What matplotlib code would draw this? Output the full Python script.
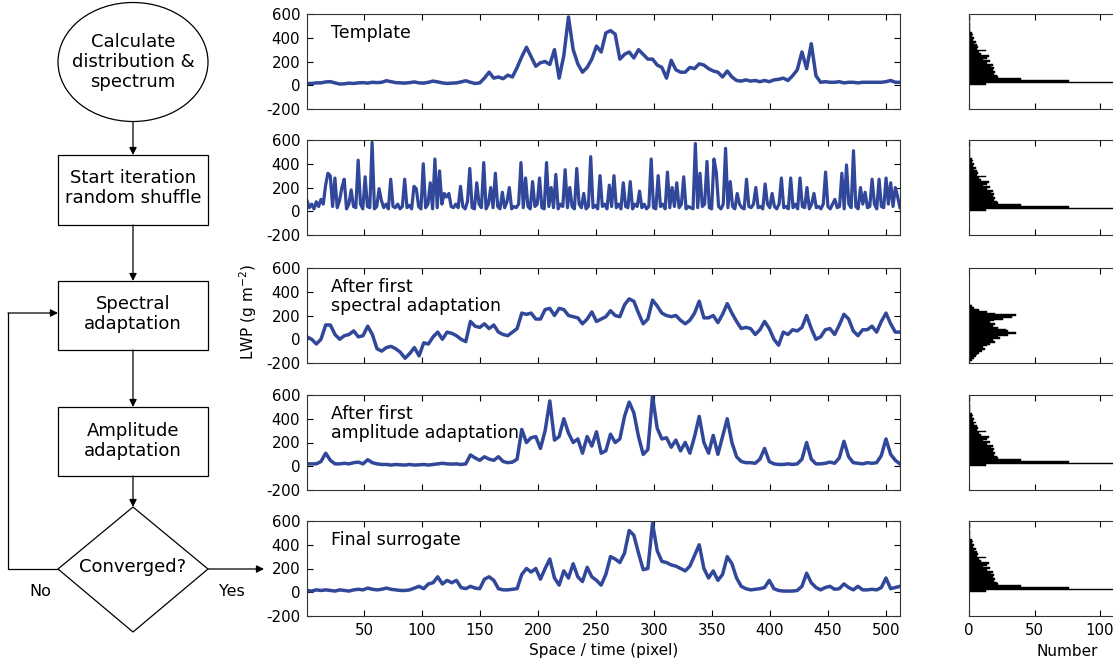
import numpy as np
import matplotlib.pyplot as plt
from matplotlib.patches import Ellipse, Rectangle, Polygon

plt.rcParams['axes.unicode_minus'] = False

# LWP series, one value every ~4 pixels (1..512)
template = [15, 15, 20, 20, 28, 30, 20, 10, 12, 18, 15, 20, 22, 18, 25, 22,
            25, 38, 30, 22, 20, 18, 22, 28, 20, 18, 25, 35, 28, 20, 15, 18,
            20, 28, 38, 25, 15, 20, 60, 110, 60, 70, 55, 85, 70, 150,
            240, 320, 240, 160, 190, 200, 175, 300, 60, 250, 575, 300, 180, 110,
            150, 220, 330, 280, 440, 460, 430, 220, 260, 280, 230, 300, 260, 220,
            220, 170, 150, 60, 210, 130, 110, 110, 150, 140, 180, 170, 140, 120,
            110, 70, 120, 70, 40, 35, 45, 35, 40, 30, 40, 30, 45, 50, 60, 40,
            80, 130, 280, 140, 350, 80, 25, 30, 25, 25, 30, 20, 25, 25, 20, 25,
            25, 25, 25, 25, 30, 40, 25, 25]
# shuffled series, one value every ~2 pixels
shuffled = [90, 30, 60, 20, 80, 40, 100, 60, 220, 320, 300, 40, 280, 30, 90, 200,
            270, 20, 60, 180, 40, 30, 430, 60, 20, 290, 40, 30, 580, 20, 40, 190,
            90, 30, 60, 20, 270, 40, 30, 60, 20, 40, 270, 30, 50, 20, 210, 190,
            40, 20, 400, 30, 60, 240, 20, 440, 30, 340, 60, 150, 120, 150, 40, 30,
            60, 30, 210, 40, 20, 80, 360, 30, 20, 240, 60, 30, 410, 20, 60, 200,
            30, 320, 40, 20, 160, 30, 80, 200, 20, 40, 30, 60, 410, 30, 280, 40,
            20, 250, 40, 60, 280, 30, 20, 410, 40, 200, 30, 310, 20, 60, 40, 350,
            30, 200, 40, 20, 360, 60, 30, 150, 20, 40, 460, 30, 50, 20, 300, 40,
            60, 20, 220, 40, 300, 30, 60, 20, 240, 40, 30, 250, 20, 60, 40, 170,
            30, 60, 20, 40, 440, 30, 20, 300, 40, 60, 20, 330, 30, 200, 40, 240,
            30, 60, 290, 20, 40, 30, 20, 570, 30, 320, 40, 60, 420, 30, 20, 440,
            330, 40, 20, 60, 530, 30, 250, 40, 20, 150, 60, 30, 20, 270, 40, 30,
            60, 200, 30, 40, 20, 230, 60, 30, 150, 40, 20, 60, 280, 30, 40, 20,
            280, 30, 60, 20, 280, 40, 30, 200, 20, 60, 150, 30, 40, 20, 60, 330,
            40, 20, 60, 100, 30, 40, 320, 20, 390, 60, 30, 510, 40, 20, 200, 60,
            160, 30, 40, 270, 60, 20, 270, 40, 30, 280, 60, 240, 40, 200, 120, 30]
spectral = [20, 0, -40, 0, 120, 120, 40, 0, 30, 40, 70, 20, 30, 110, 40, -80,
            -100, -70, -60, -80, -110, -160, -120, -70, -140, -30, -40, 20, 60, 0, 60, 50,
            30, 0, -20, 150, 110, 100, 130, 90, 120, 60, 40, 30, 60, 90, 220, 210,
            220, 170, 170, 250, 260, 200, 260, 250, 200, 190, 180, 130, 170, 230, 150, 170,
            190, 240, 200, 190, 290, 340, 320, 220, 130, 170, 330, 280, 220, 200, 190, 200,
            160, 130, 160, 220, 320, 180, 180, 200, 140, 210, 300, 220, 150, 90, 100, 90,
            40, 80, 150, 90, 0, -50, 60, 40, 80, 70, 100, 200, 90, 0, 20, 80,
            90, 40, 120, 210, 170, 70, 30, 80, 80, 110, 60, 150, 220, 130, 60, 60]
amplitude = [20, 20, 20, 40, 110, 50, 20, 20, 25, 20, 30, 35, 20, 55, 30, 20,
             15, 15, 10, 15, 12, 10, 15, 10, 12, 15, 10, 15, 20, 25, 20, 18,
             20, 15, 20, 95, 70, 50, 80, 60, 50, 80, 40, 30, 35, 60, 310, 200,
             240, 250, 150, 300, 550, 220, 250, 400, 280, 200, 230, 110, 250, 170, 290, 110,
             130, 270, 200, 230, 420, 540, 450, 250, 100, 140, 590, 320, 230, 240, 160, 220,
             130, 200, 110, 250, 420, 200, 110, 260, 100, 250, 400, 200, 80, 40, 30, 30,
             25, 60, 150, 40, 20, 15, 15, 20, 15, 20, 60, 200, 60, 20, 20, 25,
             35, 25, 70, 210, 80, 30, 25, 20, 30, 25, 30, 90, 230, 100, 50, 20]
final = [15, 10, 20, 15, 20, 15, 10, 20, 15, 10, 20, 25, 20, 35, 25, 20,
         25, 35, 25, 20, 15, 15, 20, 35, 50, 30, 70, 80, 130, 70, 100, 80,
         100, 40, 30, 50, 35, 30, 110, 130, 100, 30, 20, 20, 25, 30, 150, 200,
         170, 200, 110, 200, 280, 120, 60, 180, 120, 240, 130, 90, 210, 130, 100, 60,
         150, 300, 280, 250, 330, 520, 480, 330, 190, 200, 580, 350, 260, 250, 230, 220,
         200, 180, 220, 310, 400, 200, 120, 180, 100, 150, 300, 240, 120, 50, 30, 20,
         25, 30, 40, 100, 30, 15, 10, 10, 10, 15, 50, 160, 80, 40, 20, 40,
         50, 25, 30, 70, 40, 20, 50, 20, 20, 25, 20, 40, 120, 30, 40, 50]

# histogram counts, bins of 15 g m-2
bin_w = 15
skew_start = 0
skew_counts = [13, 190, 76, 40, 22, 21, 19, 20, 18, 19, 17, 18, 14, 16, 11, 14,
               15, 9, 8, 13, 6, 7, 6, 4, 5, 3, 4, 2, 3, 2, 1, 1, 1, 1, 1, 0, 1, 1, 1]
gauss_start = -195
gauss_counts = [1, 2, 4, 5, 6, 8, 10, 12, 11, 14, 16, 20, 18, 24, 22, 30, 36, 30,
                28, 22, 18, 20, 16, 19, 26, 33, 36, 20, 14, 8, 4, 2, 1]

panel_labels = ["Template", "", "After first\nspectral adaptation",
                "After first\namplitude adaptation", "Final surrogate"]
series = [template, shuffled, spectral, amplitude, final]
hists = [(skew_start, skew_counts), (skew_start, skew_counts), (gauss_start, gauss_counts),
         (skew_start, skew_counts), (skew_start, skew_counts)]

W, H = 1113, 666
fig = plt.figure(figsize=(W / 100, H / 100), dpi=100)
blue = '#31479a'

tops = [14, 140, 268, 395, 521]
ph = 95
for k in range(5):
    y0 = 1 - (tops[k] + ph) / H
    ax = fig.add_axes([307 / W, y0, 593 / W, ph / H])
    vals = np.array(series[k])
    xs = np.linspace(1, 512, len(vals))
    ax.plot(xs, vals, color=blue, lw=2.3 if k == 1 else 2.5)
    ax.set_xlim(1, 512)
    ax.set_ylim(-200, 600)
    ax.set_yticks([-200, 0, 200, 400, 600])
    ax.set_xticks(range(50, 501, 50))
    ax.tick_params(direction='in', top=True, right=True, labelsize=10.8, length=4, pad=5)
    if k < 4:
        ax.set_xticklabels([])
    else:
        ax.set_xlabel("Space / time (pixel)", fontsize=11, labelpad=4)
    if panel_labels[k]:
        ax.text(0.04, 0.89, panel_labels[k], transform=ax.transAxes, fontsize=12.5,
                va='top', ha='left', linespacing=1.05)
    for s in ax.spines.values():
        s.set_linewidth(0.8)
        s.set_color('#333333')

    # histogram panel
    hx = fig.add_axes([969 / W, y0, 196.5 / W, ph / H])
    start, counts = hists[k]
    centers = start + bin_w * (np.arange(len(counts)) + 0.5)
    hx.barh(centers, counts, height=bin_w, color='k', edgecolor='k', lw=0.3)
    hx.set_xlim(0, 150)
    hx.set_ylim(-200, 600)
    hx.set_yticks([])
    hx.set_xticks([0, 50, 100])
    hx.tick_params(direction='in', top=True, labelsize=10.8, length=4, pad=5)
    if k < 4:
        hx.set_xticklabels([])
    else:
        hx.set_xlabel("Number", fontsize=11, labelpad=4)
    for s in hx.spines.values():
        s.set_linewidth(0.8)
        s.set_color('#333333')

fig.text(248 / W, 1 - 312 / H, "LWP (g m$^{-2}$)", rotation=90, fontsize=11,
         ha='center', va='center')

# flowchart on an overlay in pixel coordinates
fc = fig.add_axes([0, 0, 1, 1])
fc.set_xlim(0, W)
fc.set_ylim(H, 0)
fc.axis('off')
lw = 0.9
fc.add_patch(Ellipse((133, 62), 150, 119, fill=False, lw=lw))
for (yt, yb) in [(155, 225), (281, 350), (407, 476)]:
    fc.add_patch(Rectangle((58, yt), 150, yb - yt, fill=False, lw=lw))
fc.add_patch(Polygon([(133, 507), (208, 569), (133, 632), (58, 569)], closed=True,
                     fill=False, lw=lw))

fs = 13
fc.text(133, 62, "Calculate\ndistribution &\nspectrum", ha='center', va='center',
        fontsize=fs, linespacing=1.15)
fc.text(133, 188, "Start iteration\nrandom shuffle", ha='center', va='center',
        fontsize=fs, linespacing=1.15)
fc.text(133, 314, "Spectral\nadaptation", ha='center', va='center', fontsize=fs,
        linespacing=1.15)
fc.text(133, 441, "Amplitude\nadaptation", ha='center', va='center', fontsize=fs,
        linespacing=1.15)
fc.text(133, 567, "Converged?", ha='center', va='center', fontsize=fs)
fc.text(40, 591, "No", ha='center', va='center', fontsize=11.5)
fc.text(232, 591, "Yes", ha='center', va='center', fontsize=11.5)

arr = dict(arrowstyle='-|>', color='k', lw=lw, mutation_scale=11, shrinkA=0, shrinkB=0)
for (ya, yb) in [(122, 155), (225, 281), (350, 407), (476, 507)]:
    fc.annotate('', xy=(133, yb), xytext=(133, ya), arrowprops=arr)
fc.plot([58, 8, 8], [569, 569, 313], color='k', lw=lw)
fc.annotate('', xy=(58, 313), xytext=(8, 313), arrowprops=arr)
fc.annotate('', xy=(264, 569), xytext=(208, 569), arrowprops=arr)

fig.savefig("out.png", dpi=100)
